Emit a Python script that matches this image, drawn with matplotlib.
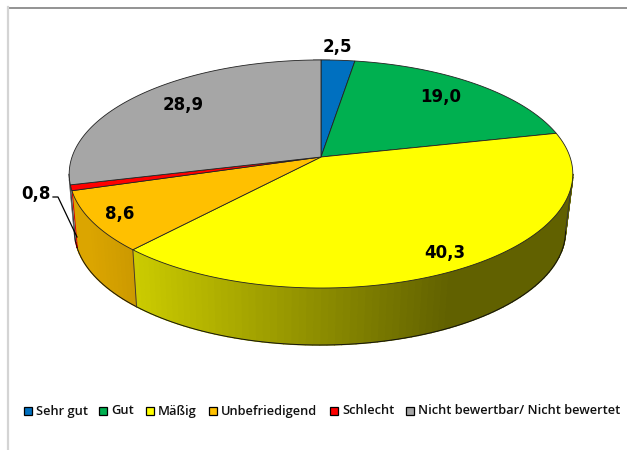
# 3D looking pie chart, drawn by hand since matplotlib has no perspective pie
import numpy as np
import matplotlib
matplotlib.use('Agg')
import matplotlib.pyplot as plt
from matplotlib.patches import Polygon, Rectangle

categories = ['Sehr gut', 'Gut', 'Mäßig', 'Unbefriedigend', 'Schlecht', 'Nicht bewertbar/ Nicht bewertet']
values = [2.5, 19.0, 40.3, 8.6, 0.8, 28.9]
value_labels = ['2,5', '19,0', '40,3', '8,6', '0,8', '28,9']
colors = ['#0070C0', '#00B050', '#FFFF00', '#FFC000', '#FF0000', '#A6A6A6']

# label centres and legend layout in pixels
label_pos = [(337, 47), (441, 97), (445, 253), (120, 214), (36, 194), (183, 105)]
legend_box_x = [24, 99, 146, 209, 330, 406]
legend_y = 411

plt.rcParams['font.family'] = ['Open Sans', 'DejaVu Sans']

fig = plt.figure(figsize=(6.27, 4.5), dpi=100)
ax = fig.add_axes([0, 0, 1, 1])
ax.set_xlim(0, 627)
ax.set_ylim(450, 0)
ax.axis('off')

# perspective of the disc
cx, cy = 321, 157
a, b, k = 249, 111.5, 0.149
cy_low, sx_low = 214, 0.975
# the wall is only seen between the two widest points of the disc
wall_hi = -np.arcsin(k)
wall_lo = -np.pi + np.arcsin(k)


def rim(theta):
    d = 1 + k * np.sin(theta)
    return a * np.cos(theta) / d, -b * np.sin(theta) / d


def top_pts(theta):
    x, y = rim(theta)
    return np.column_stack([cx + x, cy + y])


def low_pts(theta):
    x, y = rim(theta)
    return np.column_stack([cx + sx_low * x - 1, cy_low + y])


def shade(x):
    return np.clip(0.8 - (x - 132) * 0.42 / 318, 0.38, 0.86)


# slice edges, clockwise from 12 o'clock
cum = np.concatenate([[0], np.cumsum(values)]) / sum(values)
edges = np.pi / 2 - 2 * np.pi * cum

# side wall first
for i, c in enumerate(colors):
    hi = min(edges[i], wall_hi)
    lo = max(edges[i + 1], wall_lo)
    if hi <= lo:
        continue
    th = np.linspace(hi, lo, max(int((hi - lo) * 40), 2))
    t, l = top_pts(th), low_pts(th)
    rgb = np.array(matplotlib.colors.to_rgb(c))
    for j in range(len(th) - 1):
        col = rgb * shade((t[j, 0] + t[j + 1, 0]) / 2)
        ax.add_patch(Polygon([t[j], t[j + 1], l[j + 1], l[j]], facecolor=col, edgecolor=col, lw=1.0, zorder=2))
    ax.plot(l[:, 0], l[:, 1], color='#111111', lw=0.7, zorder=3)

# wall edges: yellow/orange and the two outer sides
for th0 in [edges[3], wall_hi, wall_lo]:
    th = np.array([th0])
    ax.plot([top_pts(th)[0, 0], low_pts(th)[0, 0]], [top_pts(th)[0, 1], low_pts(th)[0, 1]],
            color='#333333', lw=0.6, zorder=3)

# top face
for i, c in enumerate(colors):
    th = np.linspace(edges[i], edges[i + 1], 120)
    pts = np.vstack([[cx, cy], top_pts(th)])
    ax.add_patch(Polygon(pts, closed=True, facecolor=c, edgecolor='#222222', lw=0.6, zorder=4))

# small grey bit on the back of the rim
ax.add_patch(Rectangle((313, 59), 17, 1.6, facecolor='#BBBBBB', edgecolor='none', zorder=3))

# value labels
for txt, (x, y) in zip(value_labels, label_pos):
    ax.text(x, y, txt, ha='center', va='center', fontsize=12, fontweight='bold', color='black',
            family='DejaVu Sans', zorder=6)

# leader line for 0,8
ax.plot([53, 58, 77], [197, 197, 237], color='black', lw=0.9, zorder=5)

# legend
for name, c, x in zip(categories, colors, legend_box_x):
    ax.add_patch(Rectangle((x, legend_y - 4), 8, 8, facecolor=c, edgecolor='black', lw=0.9, zorder=5))
    ax.text(x + 12, legend_y, name, ha='left', va='center', fontsize=9.3, fontweight='semibold', color='#111111')

# frame of the pasted chart
ax.plot([8, 627], [7.5, 7.5], color='#808080', lw=1.2)
ax.plot([8, 8], [7, 450], color='#D4D4D4', lw=1.6)

fig.savefig('out.png', dpi=100)
